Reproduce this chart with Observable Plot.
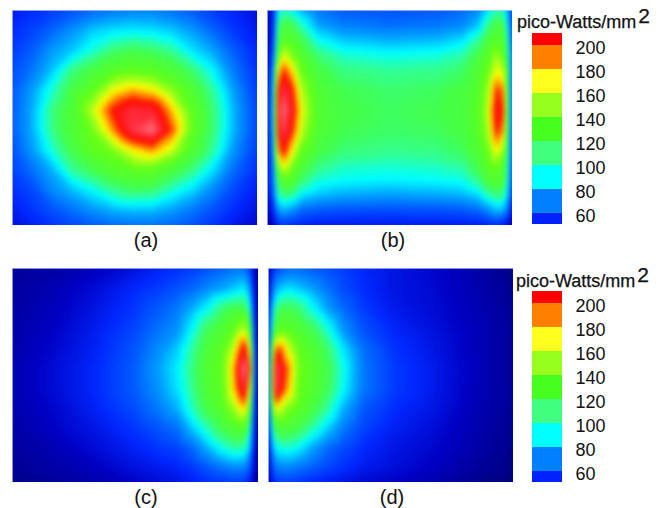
<!DOCTYPE html>
<html><head><meta charset="utf-8">
<script src="https://cdn.jsdelivr.net/npm/d3@7"></script>
<script src="https://cdn.jsdelivr.net/npm/@observablehq/plot@0.6"></script>
<style>
html,body{margin:0;padding:0;background:#fff}
#root{position:relative;width:664px;height:508px;overflow:hidden;font-family:"Liberation Sans",Arial,sans-serif;color:#111}
#root>div{position:absolute}
.lab{font-size:20px;width:60px;text-align:center;line-height:22px}
.ttl{font-size:18px;white-space:nowrap;line-height:22px;-webkit-text-stroke:.25px #111}
.ttl sup{font-size:21px;line-height:0;vertical-align:5px;margin-left:2px}
svg{display:block}
</style></head><body><div id="root"></div>
<script>
const unit = "pico-Watts/mm";
const unitPower = "2";
const legendTicks = [200,180,160,140,120,100,80,60];
const legendEdges = [53.3,62.5,82.5,102.5,122.5,142.5,162.5,182.5,202.5,212.5];
const legendColors = ["#0022ff","#0080ff","#00ffff","#40ff80","#46ff1e","#96ff1e","#ffff1e","#ff8000","#ff0000"];
const stopValues = [22,40,55,70,85,100,112,125,150,168,180,195,208,225,245];
const stopColors = ["#000078","#0000c4","#0028ff","#0060ff","#00a0ff","#00ffff","#30ff98","#44ff48","#60ff18","#b0ff18","#ffff00","#ff8000","#ff0a00","#ff2838","#ff8898"];

const axs = [0,20,40,60,80,100,120,140,160,180,200,220,245];
const ays = [0,20,40,60,80,100,120,140,160,180,200,215];
const aValues = [
[50,56,60,66,72,76,78,78,74,68,60,54,46],
[56,62,72,82,92,96,98,96,92,84,72,60,50],
[60,70,84,92,105,118,124,120,112,96,86,70,54],
[65,76,92,116,128,142,148,144,134,118,100,78,57],
[68,85,106,128,148,178,190,182,160,136,112,86,60],
[69,88,116,135,170,208,226,222,186,146,118,90,62],
[69,88,115,134,154,192,228,240,200,148,118,90,62],
[66,84,105,126,146,156,180,192,172,136,112,84,60],
[62,74,88,112,124,138,146,146,130,115,96,74,56],
[56,64,80,90,100,112,120,118,105,94,80,64,51],
[51,58,66,74,82,88,90,90,84,76,66,56,47],
[46,52,58,64,68,72,74,74,72,66,58,50,43]];

const bxs = [0,6,10,16,24,34,50,75,122,170,195,211,221,229,236,241,245];
const bys = [0,15,30,45,60,80,100,120,140,155,170,185,200,215];
const bValues = [
[35,55,95,108,100,88,76,68,66,68,72,80,96,110,105,85,50],
[35,55,110,132,125,108,86,78,74,76,80,92,115,130,125,95,52],
[35,60,120,142,140,125,102,92,88,90,96,112,132,142,138,105,54],
[38,70,140,178,158,138,118,106,102,104,110,128,142,165,145,112,58],
[38,85,175,205,185,150,128,116,112,114,120,136,152,178,170,118,58],
[40,95,205,228,210,168,136,124,119,122,128,140,165,205,195,118,56],
[40,100,215,240,218,178,138,126,121,124,130,144,172,218,205,118,56],
[40,95,208,232,208,170,136,124,120,122,128,142,166,208,192,115,55],
[40,88,188,212,182,150,128,118,114,116,122,136,152,182,160,108,55],
[42,80,155,182,158,134,116,108,106,108,112,128,145,155,140,105,52],
[45,75,122,142,138,118,104,100,98,100,102,114,132,140,130,100,50],
[40,70,105,115,112,96,90,86,84,86,88,94,108,116,112,90,48],
[38,55,82,88,82,72,68,66,65,66,68,72,80,90,88,70,42],
[30,42,54,58,54,52,50,50,50,50,50,50,52,54,50,44,34]];

const cxs = [0,40,80,120,145,165,180,195,210,222,232,238,242,246];
const cys = [0,20,40,60,80,100,120,140,160,180,200,214];
const cValues = [
[30,33,38,46,52,56,60,66,70,74,74,62,40,25],
[31,36,44,54,60,66,72,80,86,92,98,82,45,28],
[32,38,47,58,68,76,88,100,118,125,126,102,50,28],
[33,40,50,62,74,82,100,122,135,150,170,135,55,30],
[34,42,52,66,80,92,112,132,145,175,215,172,60,30],
[35,44,54,68,84,98,116,136,150,192,245,195,66,30],
[35,44,54,68,82,96,114,134,148,188,225,172,60,30],
[34,42,52,64,76,88,108,128,142,165,188,138,55,30],
[33,40,48,58,66,74,92,108,126,135,138,106,50,28],
[31,36,44,52,58,62,72,88,102,110,108,88,45,28],
[29,33,38,46,50,53,58,66,74,78,78,65,42,25],
[26,30,34,40,44,48,52,56,58,60,58,50,35,22]];

const dxs = [0,3,7,12,20,30,45,60,75,95,125,165,205,245];
const dys = [0,20,40,60,80,100,120,140,160,180,200,214];
const dValues = [
[30,50,62,68,72,72,68,64,60,54,48,42,34,26],
[35,70,85,92,96,92,84,74,64,56,48,43,36,28],
[40,85,112,122,124,118,100,84,72,60,50,44,37,29],
[45,100,135,145,142,135,122,102,82,66,54,46,38,30],
[48,135,195,200,172,150,134,118,96,74,58,48,38,30],
[50,155,235,218,195,155,140,124,102,76,60,50,39,30],
[50,155,235,212,188,152,138,122,100,76,60,50,38,30],
[48,130,180,172,155,146,128,110,88,68,56,48,37,29],
[42,100,125,132,132,124,108,92,76,62,52,45,36,28],
[38,80,98,102,104,98,84,72,64,55,48,42,34,27],
[32,62,74,78,78,74,68,62,56,50,45,39,31,25],
[28,50,58,60,60,58,54,50,47,43,40,35,28,23]];

const root = document.getElementById("root");
function place(node, left, top, cls){
  const d = document.createElement("div");
  d.style.left = left+"px"; d.style.top = top+"px";
  if (cls) d.className = cls;
  d.append(node); root.append(d); return d;
}
function panel(xs, ys, values, left, top, w, h){
  const pts = [];
  ys.forEach((y,i)=>xs.forEach((x,j)=>pts.push({x,y,v:values[i][j]})));
  const xMax = xs[xs.length-1], yMax = ys[ys.length-1];
  place(Plot.plot({
    width:w, height:h, margin:0, axis:null,
    style:{background:"transparent"},
    x:{domain:[0,xMax],range:[0,w]},
    y:{domain:[0,yMax],range:[0,h]},
    color:{type:"linear",domain:stopValues,range:stopColors,clamp:true},
    marks:[
      Plot.raster(pts,{x:"x",y:"y",fill:"v",interpolate:"barycentric",x1:0,x2:xMax,y1:0,y2:yMax,pixelSize:1,blur:2}),
      Plot.frame({stroke:"#8fb4f5",strokeOpacity:0.45})
    ]
  }), left, top);
}
function legend(top){
  const bands = legendColors.map((c,i)=>({a:legendEdges[i],b:legendEdges[i+1],c}));
  place(Plot.plot({
    width:82, height:197, marginTop:0, marginBottom:6, marginLeft:0, marginRight:52,
    style:{background:"transparent",fontSize:"18px",fontFamily:"Liberation Sans, Arial, sans-serif",color:"#111"},
    x:{axis:null,domain:[0,1]},
    y:{domain:[53.3,212.5],axis:null},
    marks:[
      Plot.rect(bands,{x1:0,x2:1,y1:"a",y2:"b",fill:"c"}),
      Plot.text(legendTicks,{y:d=>d,frameAnchor:"right",dx:13,text:d=>String(d),textAnchor:"start",fill:"#111",fontSize:18})
    ]
  }), 532, top);
}
function label(text,left,top){ const s=document.createElement("span"); s.textContent=text; place(s,left,top,"lab"); }
function title(left,top){
  const s=document.createElement("span"); s.textContent=unit;
  const p=document.createElement("sup"); p.textContent=unitPower; s.append(p);
  place(s,left,top,"ttl");
}
panel(axs,ays,aValues,12,10,245,215);
panel(bxs,bys,bValues,267,10,245,215);
panel(cxs,cys,cValues,12,268,246,214);
panel(dxs,dys,dValues,268,268,245,214);
legend(33); legend(291);
title(517,11); title(516,270);
label("(a)",116,229); label("(b)",363,229);
label("(c)",116,486); label("(d)",362,486);
</script></body></html>
